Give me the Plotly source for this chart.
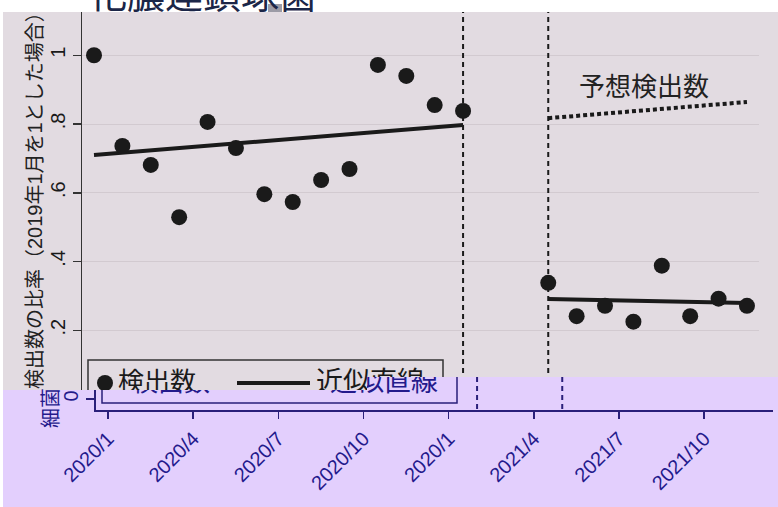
import plotly.graph_objects as go

W, H = 778, 507

# ---------------- data ----------------
pre_months = [0, 1, 2, 3, 4, 5, 6, 7, 8, 9, 10, 11, 12, 13]
pre_ratio = [1.0, 0.736, 0.681, 0.529, 0.806, 0.730, 0.596, 0.573, 0.637, 0.669, 0.972, 0.940, 0.855, 0.838]
post_months = [16, 17, 18, 19, 20, 21, 22, 23]
post_ratio = [0.338, 0.241, 0.271, 0.225, 0.388, 0.241, 0.292, 0.271]
fit_pre_months = [0, 13]
fit_pre = [0.710, 0.797]
fit_post_months = [16, 23]
fit_post = [0.291, 0.279]
forecast_months = [16, 23]
forecast = [0.817, 0.864]
break_months = [13, 16]
tick_months = [0, 3, 6, 9, 12, 15, 18, 21]
tick_labels = ["2020/1", "2020/4", "2020/7", "2020/10", "2020/1", "2021/4", "2021/7", "2021/10"]
y_tickvals = [0.2, 0.4, 0.6, 0.8, 1.0]
y_ticktext = [".2", ".4", ".6", ".8", "1"]

title_text = "化膿連鎖球菌"
ytitle_top = "検出数の比率（2019年1月を1とした場合）"
ytitle_bottom = "細菌"
legend_dot_label = "検出数"
legend_line_label = "近似直線"
forecast_label = "予想検出数"

# ---------------- layout geometry (pixels) ----------------
DX = 28.39      # pixels per month
DY = 343.75     # pixels per unit ratio
Y0 = 399        # pixel row of ratio 0
X0_TOP = 94     # pixel column of month 0 (upper copy)
SHIFT = 14      # horizontal offset of lower (colour-shifted) copy

FONT = "Liberation Sans, Arial, Noto Sans CJK JP, sans-serif"
PINK = "#e2dbe1"
LAV = "#e3cffd"
GRID = "#d2cad0"
INK = "#1a1a1a"
BLUE_TXT = "#241a8c"
BLUE_LN = "#2a1f7a"


def dom_x(p0, p1):
    return [p0 / W, p1 / W]


def dom_y(pb, pt):
    return [1 - pb / H, 1 - pt / H]


def rng_x(p0, p1, x0):
    return [(p0 - x0) / DX, (p1 - x0) / DX]


def rng_y(pb, pt):
    return [(Y0 - pb) / DY, (Y0 - pt) / DY]


def px2m(px):
    return (px - X0_TOP) / DX


def py2v(py):
    return (Y0 - py) / DY


# panels: (suffix, x px span, y px span (bottom, top), x-origin, theme)
panels = [
    ("", (82, 367), (390, 12), X0_TOP, "top"),
    ("2", (367, 759), (377, 12), X0_TOP, "top"),
    ("3", (96, 367), (410, 390), X0_TOP + SHIFT, "bottom"),
    ("4", (367, 773), (410, 377), X0_TOP + SHIFT, "bottom"),
]

# legend geometry (pixels of upper copy) converted to data units
leg_box = dict(x0=px2m(88), x1=px2m(443), y0=py2v(403), y1=py2v(360))
leg_dot = (px2m(105), py2v(383))
leg_txt1 = (px2m(118), py2v(384))
leg_line = ([px2m(237), px2m(310)], [py2v(383), py2v(383)])
leg_txt2 = (px2m(316), py2v(384))

fig = go.Figure()
shapes = []

for suf, (xa, xb), (yb, yt), x0, theme in panels:
    xref = "x" + suf
    yref = "y" + suf
    col = INK if theme == "top" else BLUE_LN
    tcol = INK if theme == "top" else BLUE_TXT
    common = dict(xaxis=xref, yaxis=yref, showlegend=False, hoverinfo="skip", cliponaxis=True)

    # dashed break lines
    for bm in break_months:
        fig.add_trace(go.Scatter(x=[bm, bm], y=[-0.5, 1.5], mode="lines",
                                 line=dict(color=col, width=2, dash="5px,4px"), **common))
    # fitted lines
    fig.add_trace(go.Scatter(x=fit_pre_months, y=fit_pre, mode="lines",
                             line=dict(color=col, width=4), **common))
    fig.add_trace(go.Scatter(x=fit_post_months, y=fit_post, mode="lines",
                             line=dict(color=col, width=4), **common))
    # forecast dotted line
    fig.add_trace(go.Scatter(x=forecast_months, y=forecast, mode="lines",
                             line=dict(color=col, width=4, dash="4px,3px"), **common))
    # observed points
    fig.add_trace(go.Scatter(x=pre_months + post_months, y=pre_ratio + post_ratio, mode="markers",
                             marker=dict(color=col, size=16), **common))
    # legend content
    if theme == "top":
        fig.add_trace(go.Scatter(x=[leg_dot[0]], y=[leg_dot[1]], mode="markers",
                                 marker=dict(color=col, size=16), **common))
        fig.add_trace(go.Scatter(x=leg_line[0], y=leg_line[1], mode="lines",
                                 line=dict(color=col, width=4), **common))
    fig.add_trace(go.Scatter(x=[leg_txt1[0]], y=[leg_txt1[1]], mode="text", text=[legend_dot_label],
                             textposition="middle right",
                             textfont=dict(family=FONT, size=26, color=tcol), **common))
    fig.add_trace(go.Scatter(x=[leg_txt2[0]], y=[leg_txt2[1]], mode="text", text=[legend_line_label],
                             textposition="middle right",
                             textfont=dict(family=FONT, size=27, color=tcol), **common))
    shapes.append(dict(type="rect", xref=xref, yref=yref, layer="above",
                       line=dict(color=("#333333" if theme == "top" else BLUE_LN), width=1.5),
                       fillcolor="rgba(0,0,0,0)", **leg_box))

    xkey = "xaxis" + suf
    ykey = "yaxis" + suf
    xcfg = dict(domain=dom_x(xa, xb), range=rng_x(xa, xb, x0), anchor=yref, automargin=False,
                showgrid=False, zeroline=False, fixedrange=True)
    ycfg = dict(domain=dom_y(yb, yt), range=rng_y(yb, yt), anchor=xref, automargin=False,
                zeroline=False, fixedrange=True)
    if theme == "top":
        xcfg.update(showline=False, ticks="", showticklabels=False)
        ycfg.update(showgrid=True, gridcolor=GRID, gridwidth=1, tickvals=y_tickvals)
        if suf == "":
            ycfg.update(showline=True, linecolor="#333333", linewidth=1.5, ticks="outside",
                        ticklen=8, tickwidth=1.5, tickcolor="#333333", ticktext=y_ticktext,
                        tickangle=-90, tickfont=dict(family=FONT, size=20, color=INK))
        else:
            ycfg.update(showline=False, ticks="", showticklabels=False)
    else:
        xcfg.update(showline=True, linecolor=BLUE_LN, linewidth=2, ticks="outside", ticklen=7,
                    tickwidth=1.5, tickcolor=BLUE_LN, tickvals=tick_months, ticktext=tick_labels,
                    tickangle=-45, tickfont=dict(family=FONT, size=20, color=BLUE_TXT))
        ycfg.update(showgrid=False)
        if suf == "3":
            ycfg.update(showline=True, linecolor=BLUE_LN, linewidth=2, ticks="outside", ticklen=8,
                        tickwidth=1.5, tickcolor=BLUE_LN, tickvals=[0], ticktext=["0"],
                        tickangle=-90, tickfont=dict(family=FONT, size=20, color=BLUE_TXT))
        else:
            ycfg.update(showline=False, ticks="", showticklabels=False)
    fig.layout[xkey] = xcfg
    fig.layout[ykey] = ycfg

# background regions (paper)
bg = [
    dict(type="rect", xref="paper", yref="paper", layer="below", line=dict(width=0),
         fillcolor=PINK, x0=3 / W, x1=1, y0=1 - 390 / H, y1=1 - 12 / H),
    dict(type="rect", xref="paper", yref="paper", layer="below", line=dict(width=0),
         fillcolor=LAV, x0=3 / W, x1=1, y0=0, y1=1 - 390 / H),
    dict(type="rect", xref="paper", yref="paper", layer="below", line=dict(width=0),
         fillcolor=LAV, x0=367 / W, x1=1, y0=1 - 390 / H, y1=1 - 377 / H),
    dict(type="rect", xref="paper", yref="paper", layer="above", line=dict(width=0),
         fillcolor="#9c9ba6", x0=268 / W, x1=282 / W, y0=1 - 12 / H, y1=1 - 4 / H),
]

annotations = [
    dict(text=title_text, xref="paper", yref="paper", x=203 / W, y=1 + 5 / H,
         xanchor="center", yanchor="middle", showarrow=False,
         font=dict(family=FONT, size=38, color="#1b2648")),
    dict(text=ytitle_top, xref="paper", yref="paper", x=35 / W, y=1 - 196 / H,
         xanchor="center", yanchor="middle", showarrow=False, textangle=-90,
         font=dict(family=FONT, size=20, color="#222222")),
    dict(text=ytitle_bottom, xref="paper", yref="paper", x=51 / W, y=1 - 408 / H,
         xanchor="center", yanchor="middle", showarrow=False, textangle=-90,
         font=dict(family=FONT, size=20, color=BLUE_TXT)),
    dict(text=forecast_label, xref="paper", yref="paper", x=577 / W, y=1 - 87 / H,
         xanchor="left", yanchor="middle", showarrow=False,
         font=dict(family=FONT, size=26, color="#222222")),
]

fig.update_layout(
    template="none",
    width=W, height=H,
    margin=dict(l=0, r=0, t=0, b=0, autoexpand=False),
    paper_bgcolor="white",
    plot_bgcolor="rgba(0,0,0,0)",
    shapes=bg + shapes,
    annotations=annotations,
    showlegend=False,
    font=dict(family=FONT),
)

fig.write_html("out.html",
               config={"displayModeBar": False, "staticPlot": True},
               post_script="document.body.style.margin='0';document.body.style.overflow='hidden';")
